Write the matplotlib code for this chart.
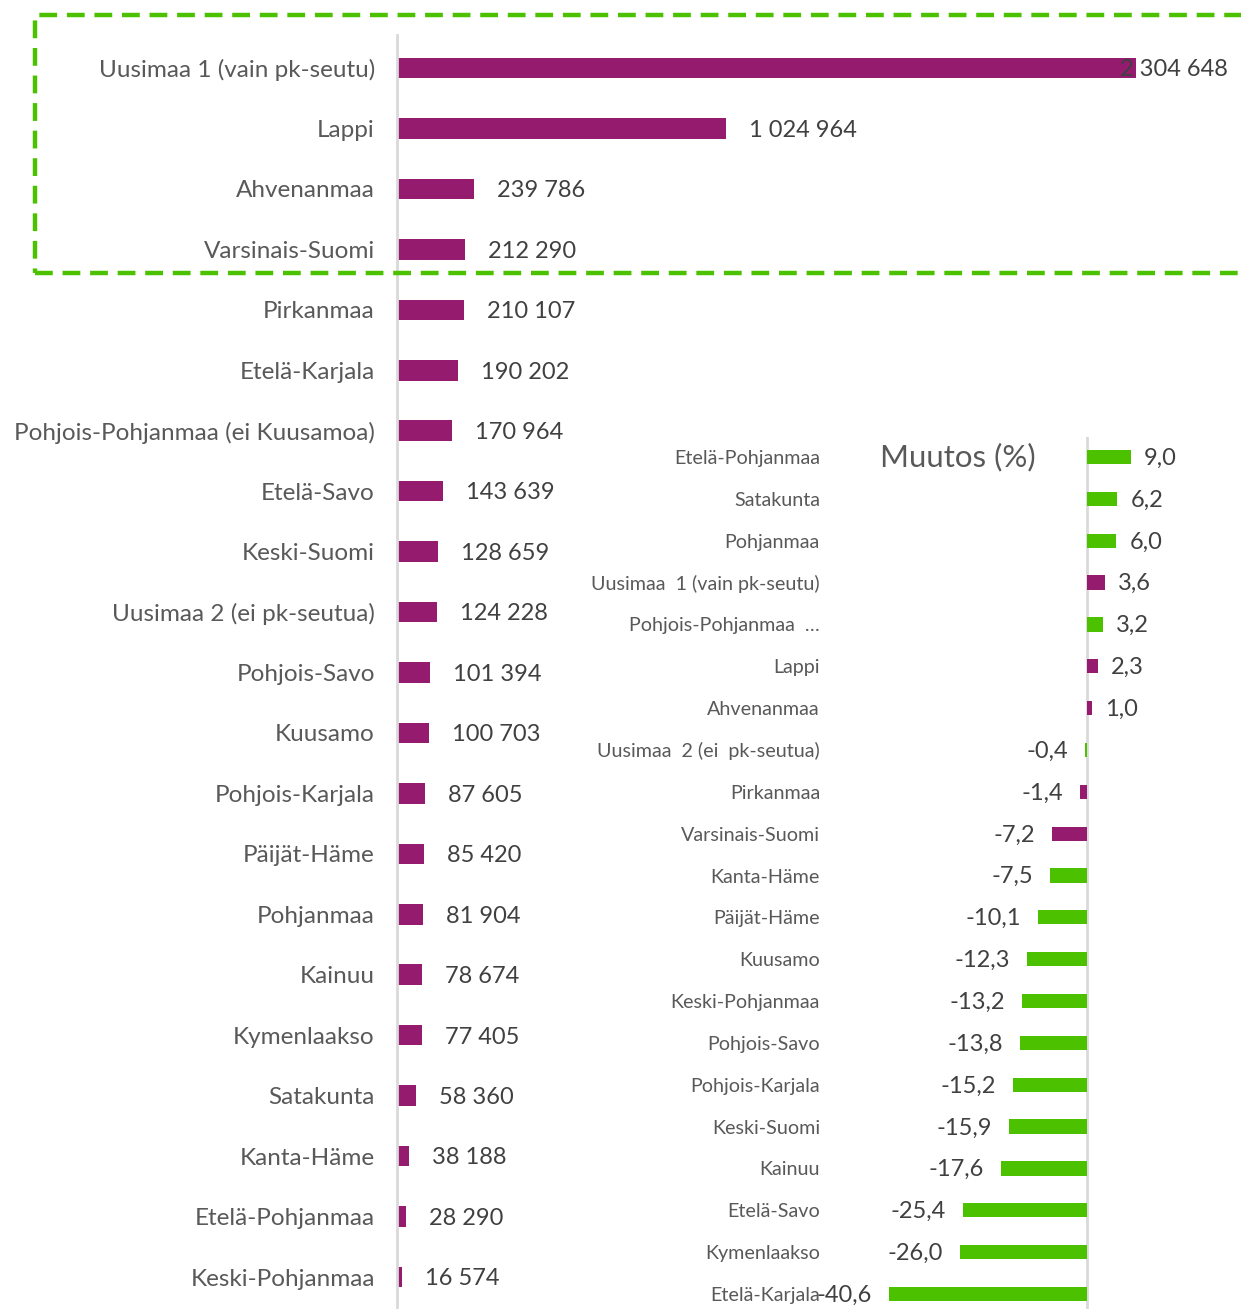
import matplotlib.pyplot as plt
from matplotlib.patches import Rectangle

# Main chart: total per region
regions = ['Uusimaa 1 (vain pk-seutu)', 'Lappi', 'Ahvenanmaa', 'Varsinais-Suomi',
           'Pirkanmaa', 'Etelä-Karjala', 'Pohjois-Pohjanmaa (ei Kuusamoa)', 'Etelä-Savo',
           'Keski-Suomi', 'Uusimaa 2 (ei pk-seutua)', 'Pohjois-Savo', 'Kuusamo',
           'Pohjois-Karjala', 'Päijät-Häme', 'Pohjanmaa', 'Kainuu', 'Kymenlaakso',
           'Satakunta', 'Kanta-Häme', 'Etelä-Pohjanmaa', 'Keski-Pohjanmaa']
totals = [2304648, 1024964, 239786, 212290, 210107, 190202, 170964, 143639,
          128659, 124228, 101394, 100703, 87605, 85420, 81904, 78674, 77405,
          58360, 38188, 28290, 16574]

# Inset chart: change (%)
change_regions = ['Etelä-Pohjanmaa', 'Satakunta', 'Pohjanmaa', 'Uusimaa  1 (vain pk-seutu)',
                  'Pohjois-Pohjanmaa  …', 'Lappi', 'Ahvenanmaa', 'Uusimaa  2 (ei  pk-seutua)',
                  'Pirkanmaa', 'Varsinais-Suomi', 'Kanta-Häme', 'Päijät-Häme', 'Kuusamo',
                  'Keski-Pohjanmaa', 'Pohjois-Savo', 'Pohjois-Karjala', 'Keski-Suomi',
                  'Kainuu', 'Etelä-Savo', 'Kymenlaakso', 'Etelä-Karjala']
change_pct = [9.0, 6.2, 6.0, 3.6, 3.2, 2.3, 1.0, -0.4, -1.4, -7.2, -7.5, -10.1,
              -12.3, -13.2, -13.8, -15.2, -15.9, -17.6, -25.4, -26.0, -40.6]
highlighted = ['Uusimaa  1 (vain pk-seutu)', 'Lappi', 'Ahvenanmaa', 'Pirkanmaa', 'Varsinais-Suomi']

PURPLE = '#951B6F'
GREEN = '#4CC100'
LABEL = '#595959'
VALUE = '#404040'
AXIS = '#D9D9D9'

W, H = 1241, 1309
plt.rcParams['font.family'] = ['Lato', 'DejaVu Sans']

fig = plt.figure(figsize=(W / 100, H / 100), dpi=100)


def fx(px):
    return px / W


def fy(py):
    return 1 - py / H


# ---- main chart ----
zero_x, full_x = 397, 1136
row0, row_step = 68, (1277 - 68) / 20
ax = fig.add_axes([fx(zero_x), 0, fx(W - zero_x), fy(35)])
xmax = totals[0] * (W - zero_x) / (full_x - zero_x)
ax.set_xlim(0, xmax)
ax.set_ylim((H - row0) / row_step, -(row0 - 35) / row_step)
y = list(range(len(regions)))
ax.barh(y, totals, height=0.34, color=PURPLE)
ax.set_yticks(y)
ax.set_yticklabels(regions, fontsize=17.5, color=LABEL)
ax.tick_params(axis='y', length=0, pad=16)
ax.set_xticks([])
for s in ['top', 'right', 'bottom']:
    ax.spines[s].set_visible(False)
ax.spines['left'].set_color(AXIS)
ax.spines['left'].set_linewidth(2)

px_unit = xmax / (W - zero_x)
cap = (1120 - zero_x) * px_unit
for yi, v in zip(y, totals):
    lx = min(v + 23 * px_unit, cap)
    ax.text(lx, yi + 0.03, f"{v:,}".replace(",", " "), va='center', ha='left',
            fontsize=17, color=VALUE)

# dashed highlight box around the top four
box = Rectangle((fx(35), fy(273)), fx(W + 50 - 35), fy(15) - fy(273),
                transform=fig.transFigure, fill=False, edgecolor=GREEN,
                linewidth=3.2, linestyle=(0, (4, 2.2)), clip_on=False)
fig.patches.append(box)

# ---- inset: change (%) ----
izero = 1087
iscale = 44 / 9.0
ileft = 870
irow0, irow_step = 457, (1294 - 457) / 20
iax = fig.add_axes([fx(ileft), 0, fx(W - ileft), fy(437)])
iax.patch.set_alpha(0)
iax.set_xlim(-(izero - ileft) / iscale, (W - izero) / iscale)
iax.set_ylim((H - irow0) / irow_step, -(irow0 - 437) / irow_step)
iy = list(range(len(change_regions)))
colors = [PURPLE if r in highlighted else GREEN for r in change_regions]
iax.barh(iy, change_pct, height=0.34, color=colors)
iax.axvline(0, color=AXIS, linewidth=2, zorder=0)
iax.set_yticks(iy)
iax.set_yticklabels(change_regions, fontsize=14.2, color=LABEL)
iax.tick_params(axis='y', length=0, pad=(ileft - 820) * 0.72)
iax.set_xticks([])
for s in iax.spines.values():
    s.set_visible(False)

for yi, v in zip(iy, change_pct):
    txt = f"{v:.1f}".replace(".", ",")
    if v >= 0:
        iax.text(v + 13 / iscale, yi + 0.03, txt, va='center', ha='left', fontsize=17, color=VALUE)
    else:
        iax.text(v - 17 / iscale, yi + 0.03, txt, va='center', ha='right', fontsize=17, color=VALUE)

fig.text(fx(880), fy(457), 'Muutos (%)', fontsize=22.5, color=LABEL, va='center', ha='left')

fig.savefig('out.png', dpi=100)
